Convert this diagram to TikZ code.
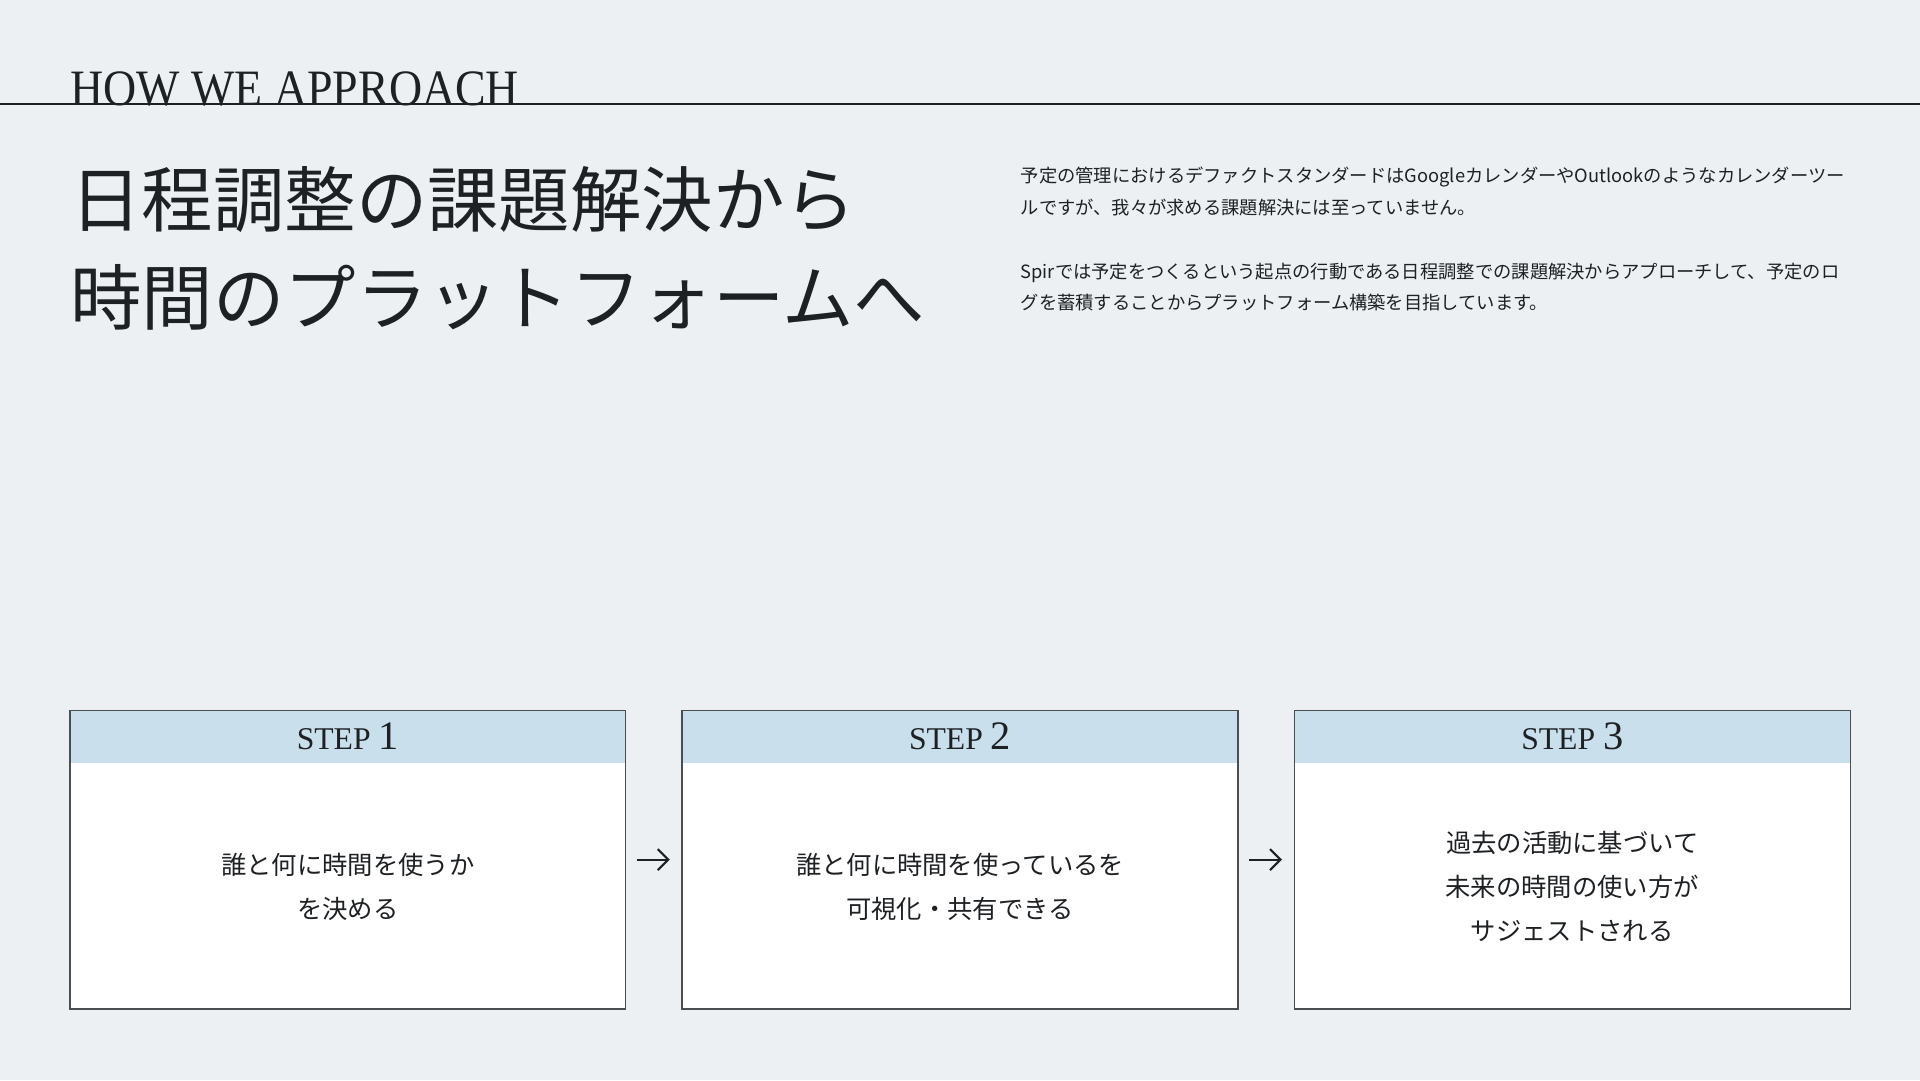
\documentclass[tikz,border=0pt]{standalone}
\usepackage{fontspec}
\setmainfont{Liberation Serif}
\newfontfamily\jp{Noto Sans CJK JP}
\usetikzlibrary{positioning}
\usetikzlibrary{arrows.meta}
\definecolor{bgcol}{HTML}{ECF0F3}
\definecolor{headcol}{HTML}{C9DFEC}
\definecolor{inkcol}{HTML}{1E2124}
\tikzset{
  steplabel/.style={font=\fontsize{9}{10}\selectfont, text=inkcol},
  stepbody/.style={font=\jp\fontsize{7.2}{12.6}\selectfont, align=center, text=inkcol},
  paratext/.style={font=\jp\fontsize{5.2}{9}\selectfont, text=inkcol, anchor=north west, align=left, inner sep=0}
}
\begin{document}
\begin{tikzpicture}[x=0.012245cm, y=-0.012245cm]
	% background
	\fill[bgcol] (0,0) rectangle (1568,882);
	\useasboundingbox (0,0) rectangle (1568,882);

	% heading
	\draw[inkcol, line width=0.5pt] (0,85) -- (1568,85);
	\node[anchor=base west, inner sep=0, text=inkcol, xscale=0.9, font=\fontsize{14.5}{16}\selectfont] (head) at (57,86) {HOW WE APPROACH};

	% title
	\node[anchor=west, inner sep=0, align=left, text=inkcol, font=\jp\fontsize{20.3}{28}\selectfont] (title) at (57,203) {日程調整の課題解決から\\時間のプラットフォームへ};

	% paragraph
	\node[paratext] (para1) at (833,136) {予定の管理におけるデファクトスタンダードはGoogleカレンダーやOutlookのようなカレンダーツー\\ルですが、我々が求める課題解決には至っていません。};
	\node[paratext] (para2) at (833,214) {Spirでは予定をつくるという起点の行動である日程調整での課題解決からアプローチして、予定のロ\\グを蓄積することからプラットフォーム構築を目指しています。};

	% steps
	\foreach \i/\x/\txt in {1/57/{誰と何に時間を使うか\\を決める}, 2/557/{誰と何に時間を使っているを\\可視化・共有できる}, 3/1057/{過去の活動に基づいて\\未来の時間の使い方が\\サジェストされる}} {
		\fill[white] (\x,623) rectangle ++(454,201);
		\fill[headcol] (\x,580) rectangle ++(454,43);
		\draw[inkcol!80, line width=0.4pt] (\x,580) coordinate (nw\i) rectangle ++(454,244) coordinate (se\i);
		\node[steplabel] (lbl\i) at (\x+227,601) {STEP \fontsize{11.5}{12}\selectfont\i};
		\node[stepbody] (txt\i) at (\x+227,724) {\txt};
	}
	\coordinate (a1) at (520,702); \coordinate (a2) at (547,702);
	\coordinate (b1) at (1020,702); \coordinate (b2) at (1047,702);

	% arrows
	\draw[-{Straight Barb[length=3pt]}, inkcol, line width=0.6pt] (a1) -- (a2);
	\draw[-{Straight Barb[length=3pt]}, inkcol, line width=0.6pt] (b1) -- (b2);
\end{tikzpicture}
\end{document}
